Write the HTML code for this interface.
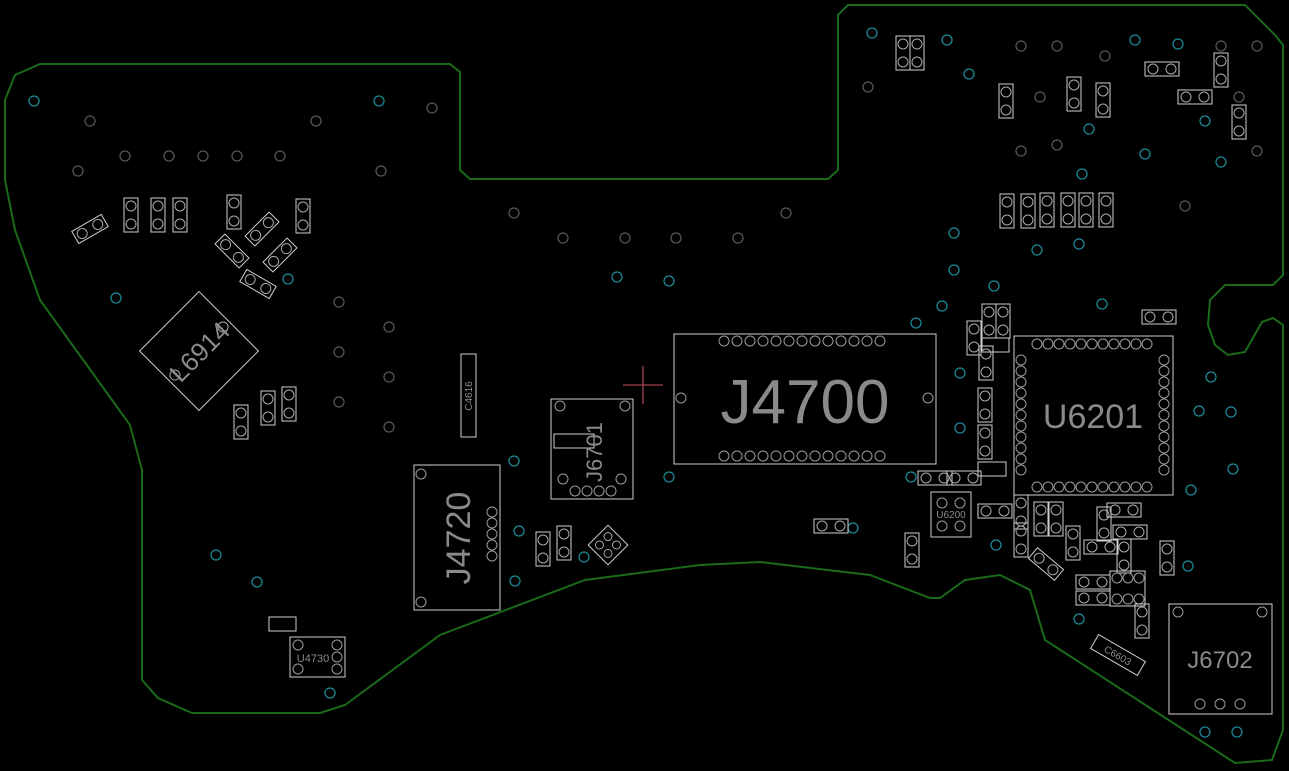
<!DOCTYPE html>
<html><head><meta charset="utf-8"><style>
html,body{margin:0;padding:0;background:#000;}
svg{display:block}
text{font-family:"Liberation Sans",sans-serif;fill:#8a8a8a}
</style></head><body>
<svg width="1289" height="771" viewBox="0 0 1289 771" xmlns="http://www.w3.org/2000/svg">
<defs>
<g id="v"><rect x="-7" y="-17" width="14" height="34" fill="none" stroke="#d0d0d0" stroke-width="1"/><circle cx="0" cy="-9" r="5" fill="none" stroke="#aaa"/><circle cx="0" cy="9" r="5" fill="none" stroke="#aaa"/></g>
<g id="h"><rect x="-17" y="-7" width="34" height="14" fill="none" stroke="#d0d0d0" stroke-width="1"/><circle cx="-9" cy="0" r="5" fill="none" stroke="#aaa"/><circle cx="9" cy="0" r="5" fill="none" stroke="#aaa"/></g>
<circle id="c" r="5" fill="none" stroke="#1d8795" stroke-width="1.3"/>
<circle id="g" r="5" fill="none" stroke="#555" stroke-width="1.3"/>
<circle id="p" r="5" fill="none" stroke="#9a9a9a" stroke-width="1"/>
</defs>
<rect width="1289" height="771" fill="#000"/>
<path d="M15,75 L40,64 L450,64 L460,72 L460,170 L470,179 L828,179 L838,170 L838,15 L848,5 L1245,5 L1275,35 L1283,45 L1283,275 L1273,285 L1225,285 L1210,300 L1208,325 L1215,345 L1228,355 L1245,352 L1262,322 L1273,318 L1283,325 L1283,730 L1272,760 L1235,763 L1045,640 L1030,590 L1000,575 L965,580 L940,598 L930,598 L870,575 L760,562 L700,565 L585,580 L440,635 L345,705 L320,713 L192,713 L158,698 L142,680 L142,470 L130,425 L40,300 L15,230 L5,180 L5,100 Z" fill="none" stroke="#1a6a1a" stroke-width="2"/>

<!-- vias cyan -->
<g>
<use href="#c" x="34" y="101"/><use href="#c" x="379" y="101"/><use href="#c" x="116" y="298"/><use href="#c" x="288" y="279"/>
<use href="#c" x="617" y="277"/><use href="#c" x="669" y="281"/><use href="#c" x="514" y="461"/><use href="#c" x="519" y="531"/><use href="#c" x="515" y="581"/><use href="#c" x="584" y="557"/><use href="#c" x="669" y="477"/>
<use href="#c" x="216" y="555"/><use href="#c" x="257" y="582"/><use href="#c" x="330" y="693"/><use href="#c" x="853" y="528"/><use href="#c" x="911" y="477"/><use href="#c" x="916" y="323"/><use href="#c" x="942" y="306"/><use href="#c" x="954" y="233"/><use href="#c" x="954" y="270"/><use href="#c" x="994" y="286"/><use href="#c" x="960" y="373"/><use href="#c" x="960" y="428"/><use href="#c" x="996" y="545"/>
<use href="#c" x="872" y="33"/><use href="#c" x="947" y="40"/><use href="#c" x="969" y="74"/><use href="#c" x="1135" y="40"/><use href="#c" x="1178" y="44"/><use href="#c" x="1145" y="154"/><use href="#c" x="1205" y="121"/><use href="#c" x="1221" y="162"/><use href="#c" x="1089" y="129"/><use href="#c" x="1082" y="174"/><use href="#c" x="1037" y="250"/><use href="#c" x="1079" y="244"/><use href="#c" x="1102" y="304"/>
<use href="#c" x="1211" y="377"/><use href="#c" x="1199" y="411"/><use href="#c" x="1231" y="412"/><use href="#c" x="1233" y="469"/><use href="#c" x="1191" y="490"/><use href="#c" x="1188" y="566"/><use href="#c" x="1079" y="619"/><use href="#c" x="1205" y="732"/><use href="#c" x="1237" y="732"/>
</g>
<!-- gray holes -->
<g>
<use href="#g" x="90" y="121"/><use href="#g" x="316" y="121"/><use href="#g" x="432" y="108"/><use href="#g" x="125" y="156"/><use href="#g" x="169" y="156"/><use href="#g" x="203" y="156"/><use href="#g" x="237" y="156"/><use href="#g" x="280" y="156"/><use href="#g" x="78" y="171"/><use href="#g" x="381" y="171"/>
<use href="#g" x="514" y="213"/><use href="#g" x="786" y="213"/><use href="#g" x="563" y="238"/><use href="#g" x="625" y="238"/><use href="#g" x="676" y="238"/><use href="#g" x="738" y="238"/>
<use href="#g" x="339" y="302"/><use href="#g" x="389" y="327"/><use href="#g" x="339" y="352"/><use href="#g" x="389" y="377"/><use href="#g" x="339" y="402"/><use href="#g" x="389" y="427"/>
<use href="#g" x="868" y="87"/><use href="#g" x="1021" y="46"/><use href="#g" x="1057" y="46"/><use href="#g" x="1105" y="56"/><use href="#g" x="1221" y="46"/><use href="#g" x="1040" y="97"/><use href="#g" x="1239" y="97"/><use href="#g" x="1021" y="151"/><use href="#g" x="1057" y="145"/><use href="#g" x="1257" y="151"/><use href="#g" x="1257" y="46"/><use href="#g" x="1185" y="206"/>
</g>

<!-- left small parts -->
<g transform="translate(90,229) rotate(-30)"><use href="#h"/></g>
<use href="#v" x="131" y="215"/><use href="#v" x="158" y="215"/><use href="#v" x="180" y="215"/><use href="#v" x="234" y="212"/><use href="#v" x="303" y="216"/>
<g transform="translate(262,229) rotate(-45)"><use href="#h"/></g>
<g transform="translate(232,251) rotate(45)"><use href="#h"/></g>
<g transform="translate(280,255) rotate(-45)"><use href="#h"/></g>
<g transform="translate(258,284) rotate(30)"><use href="#h"/></g>
<use href="#v" x="241" y="422"/><use href="#v" x="268" y="408"/><use href="#v" x="289" y="404"/>
<g transform="translate(199,351) rotate(-45)"><rect x="-42" y="-42" width="84" height="84" fill="none" stroke="#d0d0d0"/><circle cx="-34" cy="0" r="5" fill="none" stroke="#aaa"/><circle cx="34" cy="0" r="5" fill="none" stroke="#aaa"/></g>
<text x="199" y="361" font-size="26" text-anchor="middle" transform="rotate(-45 199 351)">L6914</text>

<rect x="461" y="354" width="15" height="83" fill="none" stroke="#d0d0d0"/>
<text x="472" y="396" font-size="10" text-anchor="middle" transform="rotate(-90 472 396)">C4616</text>

<rect x="414" y="465" width="86" height="145" fill="none" stroke="#d0d0d0"/>
<use href="#p" x="421" y="474"/><use href="#p" x="421" y="602"/>
<use href="#p" x="492" y="512"/><use href="#p" x="492" y="523"/><use href="#p" x="492" y="534"/><use href="#p" x="492" y="545"/><use href="#p" x="492" y="556"/>
<text x="470" y="538" font-size="34" text-anchor="middle" transform="rotate(-90 470 538)">J4720</text>

<rect x="269" y="617" width="27" height="14" fill="none" stroke="#d0d0d0"/>
<rect x="290" y="637" width="55" height="40" fill="none" stroke="#d0d0d0"/>
<use href="#p" x="298" y="645"/><use href="#p" x="298" y="669"/><use href="#p" x="337" y="645"/><use href="#p" x="337" y="657"/><use href="#p" x="337" y="669"/>
<text x="313" y="662" font-size="11" text-anchor="middle">U4730</text>

<!-- J6701 -->
<rect x="551" y="399" width="82" height="100" fill="none" stroke="#d0d0d0"/>
<use href="#p" x="560" y="406"/><use href="#p" x="625" y="406"/>
<use href="#p" x="575" y="491"/><use href="#p" x="587" y="491"/><use href="#p" x="599" y="491"/><use href="#p" x="611" y="491"/><use href="#p" x="563" y="479"/><use href="#p" x="621" y="479"/>
<rect x="554" y="434" width="40" height="14" fill="none" stroke="#d0d0d0"/>
<text x="602" y="452" font-size="22" text-anchor="middle" transform="rotate(-90 602 452)">J6701</text>
<use href="#v" x="543" y="549"/><use href="#v" x="564" y="543"/>
<g transform="translate(608,545) rotate(45)"><rect x="-14" y="-14" width="28" height="28" fill="none" stroke="#d0d0d0"/><circle cx="-6" cy="-6" r="4" fill="none" stroke="#aaa"/><circle cx="6" cy="-6" r="4" fill="none" stroke="#aaa"/><circle cx="-6" cy="6" r="4" fill="none" stroke="#aaa"/><circle cx="6" cy="6" r="4" fill="none" stroke="#aaa"/></g>

<path d="M623,385 H663 M643,366 V404" stroke="#a04050" stroke-width="1.3"/>

<!-- J4700 -->
<rect x="674" y="334" width="262" height="130" fill="none" stroke="#d0d0d0"/>
<g fill="none" stroke="#9a9a9a">
<circle cx="681" cy="398" r="5"/><circle cx="928" cy="398" r="5"/>
</g>
<g id="row1">
<use href="#p" x="724" y="341"/><use href="#p" x="737" y="341"/><use href="#p" x="750" y="341"/><use href="#p" x="763" y="341"/><use href="#p" x="776" y="341"/><use href="#p" x="789" y="341"/><use href="#p" x="802" y="341"/><use href="#p" x="815" y="341"/><use href="#p" x="828" y="341"/><use href="#p" x="841" y="341"/><use href="#p" x="854" y="341"/><use href="#p" x="867" y="341"/><use href="#p" x="880" y="341"/>
</g>
<use href="#row1" y="115"/>
<text x="805" y="423" font-size="62" text-anchor="middle" fill="#8a8a8a">J4700</text>

<!-- U6201 -->
<rect x="1014" y="336" width="159" height="159" fill="none" stroke="#d0d0d0"/>
<g id="rt">
<use href="#p" x="1037" y="344"/><use href="#p" x="1048" y="344"/><use href="#p" x="1059" y="344"/><use href="#p" x="1070" y="344"/><use href="#p" x="1081" y="344"/><use href="#p" x="1092" y="344"/><use href="#p" x="1103" y="344"/><use href="#p" x="1114" y="344"/><use href="#p" x="1125" y="344"/><use href="#p" x="1136" y="344"/><use href="#p" x="1147" y="344"/>
</g>
<use href="#rt" y="143"/>
<g id="cl">
<use href="#p" x="1021" y="360"/><use href="#p" x="1021" y="371"/><use href="#p" x="1021" y="382"/><use href="#p" x="1021" y="393"/><use href="#p" x="1021" y="404"/><use href="#p" x="1021" y="415"/><use href="#p" x="1021" y="426"/><use href="#p" x="1021" y="437"/><use href="#p" x="1021" y="448"/><use href="#p" x="1021" y="459"/><use href="#p" x="1021" y="470"/>
</g>
<use href="#cl" x="143"/>
<text x="1093" y="428" font-size="34" text-anchor="middle">U6201</text>

<!-- parts around U6201 -->
<use href="#v" x="989" y="321"/><use href="#v" x="1003" y="321"/><use href="#v" x="974" y="338"/>
<rect x="982" y="338" width="27" height="14" fill="none" stroke="#d0d0d0"/>
<use href="#v" x="986" y="363"/><use href="#v" x="985" y="405"/><use href="#v" x="985" y="442"/>
<rect x="978" y="462" width="28" height="14" fill="none" stroke="#d0d0d0"/>
<use href="#h" x="935" y="478"/><use href="#h" x="964" y="478"/>
<rect x="931" y="492" width="40" height="45" fill="none" stroke="#d0d0d0"/>
<use href="#p" x="942" y="503"/><use href="#p" x="960" y="503"/><use href="#p" x="942" y="526"/><use href="#p" x="960" y="526"/>
<text x="951" y="518" font-size="10" text-anchor="middle">U6200</text>
<use href="#h" x="995" y="511"/><use href="#v" x="1021" y="512"/><use href="#v" x="1021" y="540"/>
<use href="#v" x="1041" y="519"/><use href="#v" x="1056" y="519"/><use href="#v" x="1073" y="543"/>
<use href="#v" x="1104" y="524"/><use href="#h" x="1124" y="510"/><use href="#h" x="1130" y="532"/>
<use href="#h" x="1101" y="547"/><use href="#v" x="1124" y="556"/><use href="#v" x="1167" y="558"/>
<g transform="translate(1046,564) rotate(40)"><use href="#h"/></g>
<use href="#h" x="1093" y="582"/><use href="#h" x="1093" y="598"/>
<rect x="1110" y="571" width="35" height="35" fill="none" stroke="#d0d0d0"/>
<use href="#p" x="1117" y="578"/><use href="#p" x="1128" y="578"/><use href="#p" x="1139" y="578"/><use href="#p" x="1117" y="599"/><use href="#p" x="1128" y="599"/><use href="#p" x="1139" y="599"/>
<use href="#v" x="1142" y="621"/>
<g transform="translate(1118,655) rotate(30)"><rect x="-27" y="-8" width="54" height="16" fill="none" stroke="#d0d0d0"/><text x="0" y="4" font-size="10" text-anchor="middle">C6603</text></g>
<use href="#h" x="1159" y="317"/>
<use href="#h" x="831" y="526"/><use href="#v" x="912" y="550"/>

<!-- J6702 -->
<rect x="1169" y="604" width="103" height="110" fill="none" stroke="#d0d0d0"/>
<use href="#p" x="1178" y="612"/><use href="#p" x="1262" y="612"/><use href="#p" x="1200" y="704"/><use href="#p" x="1220" y="704"/><use href="#p" x="1240" y="704"/>
<text x="1220" y="668" font-size="24" text-anchor="middle">J6702</text>

<!-- top-right parts -->
<use href="#v" x="903" y="53"/><use href="#v" x="917" y="53"/>
<use href="#h" x="1162" y="69"/><use href="#h" x="1195" y="97"/>
<use href="#v" x="1221" y="70"/><use href="#v" x="1239" y="122"/>
<use href="#v" x="1006" y="101"/><use href="#v" x="1074" y="94"/><use href="#v" x="1103" y="100"/>
<use href="#v" x="1007" y="211"/><use href="#v" x="1028" y="211"/><use href="#v" x="1047" y="210"/><use href="#v" x="1068" y="210"/><use href="#v" x="1086" y="210"/><use href="#v" x="1106" y="210"/>
</svg>
</body></html>
